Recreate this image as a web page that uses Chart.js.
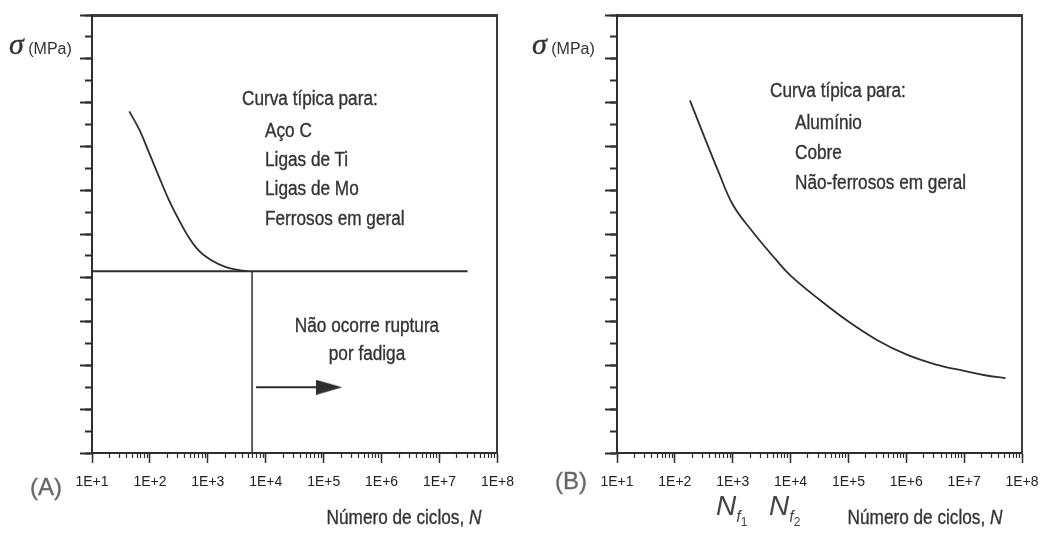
<!DOCTYPE html>
<html>
<head>
<meta charset="utf-8">
<script src="https://cdn.jsdelivr.net/npm/chart.js@4"></script>
<style>
  html, body { margin: 0; padding: 0; background: #fff; }
  #wrap { position: relative; width: 1050px; height: 533px; overflow: hidden; }
  .pane { position: absolute; top: 0; width: 525px; height: 533px; }
  .lbl { position: absolute; white-space: nowrap; color: #333; line-height: 1;
         -webkit-text-stroke: 0.35px #333;
         font-family: "Liberation Sans Narrow", "Arial Narrow", "Liberation Sans", sans-serif; }
  .mid { transform: translate(-50%, -50%) scaleX(0.86); }
  .lft { transform: translateY(-50%) scaleX(0.86); transform-origin: left center; }
  .plain { transform: translateY(-50%); }
  .sig { font-family: "Liberation Serif", serif; font-style: italic; font-size: 30px; }
  .mpa { font-size: 16px; -webkit-text-stroke: 0; }
  .note { font-size: 20px; }
  .panel { font-size: 24px; color: #666; -webkit-text-stroke: 0.3px #666;
           font-family: "Liberation Sans", sans-serif; transform: translate(-50%, -50%); }
  .nf { font-family: "Liberation Sans", sans-serif; font-style: italic; font-size: 28px; color: #444; -webkit-text-stroke: 0; }
  .nf sub { font-size: 16px; vertical-align: -7px; }
  .nf sub sub { font-size: 12px; font-style: normal; vertical-align: -4px; }
</style>
</head>
<body>
<div id="wrap">
  <div class="pane" style="left:0"><canvas id="chartA"></canvas></div>
  <div class="pane" style="left:525px"><canvas id="chartB"></canvas></div>

  <div class="lbl plain" style="left:9px;top:44px"><span class="sig">σ</span> <span class="mpa">(MPa)</span></div>
  <div class="lbl lft note" style="left:242px;top:98px">Curva típica para:</div>
  <div class="lbl lft note" style="left:265px;top:130px">Aço C</div>
  <div class="lbl lft note" style="left:265px;top:159px">Ligas de Ti</div>
  <div class="lbl lft note" style="left:265px;top:188px">Ligas de Mo</div>
  <div class="lbl lft note" style="left:265px;top:218px">Ferrosos em geral</div>
  <div class="lbl mid note" style="left:367px;top:325px">Não ocorre ruptura</div>
  <div class="lbl mid note" style="left:367px;top:353px">por fadiga</div>
  <div class="lbl panel" style="left:46px;top:487px">(A)</div>
  <div class="lbl mid note" style="left:404px;top:517px">Número de ciclos, <i>N</i></div>

  <div class="lbl plain" style="left:532px;top:44px"><span class="sig">σ</span> <span class="mpa">(MPa)</span></div>
  <div class="lbl lft note" style="left:770px;top:90px">Curva típica para:</div>
  <div class="lbl lft note" style="left:795px;top:122px">Alumínio</div>
  <div class="lbl lft note" style="left:795px;top:152px">Cobre</div>
  <div class="lbl lft note" style="left:795px;top:182px">Não-ferrosos em geral</div>
  <div class="lbl panel" style="left:571px;top:481px">(B)</div>
  <div class="lbl plain nf" style="left:716px;top:510px">N<sub>f<sub>1</sub></sub></div>
  <div class="lbl plain nf" style="left:769px;top:510px">N<sub>f<sub>2</sub></sub></div>
  <div class="lbl mid note" style="left:925px;top:517px">Número de ciclos, <i>N</i></div>
</div>

<script>
    "use strict";

    // -----------------------------------------------------------
    //  Data
    // -----------------------------------------------------------
    var tickLabels = ["1E+1", "1E+2", "1E+3", "1E+4", "1E+5", "1E+6", "1E+7", "1E+8"];
    var nMin = 10, nMax = 1e8;
    var sMin = 0, sMax = 20;

    // (A) ferrous curve
    var curveA_N = [44, 66, 97, 144, 213, 316, 468, 692, 1150, 2000, 3320, 4920];
    var curveA_S = [15.6, 14.75, 13.7, 12.6, 11.55, 10.65, 9.85, 9.25, 8.8, 8.5, 8.36, 8.3];
    var limitLine_N = [10, 30500000];
    var limitLine_S = [8.3, 8.3];
    var vertLine_N = [5800, 5800];
    var vertLine_S = [8.3, 0];
    var arrow_N = [6800, 125000];
    var arrow_S = [3, 3];

    // (B) non-ferrous curve
    var curveB_N = [182, 339, 575, 1000, 2140, 5500, 10000, 31600, 100000, 316000, 1000000, 3160000, 10000000, 23000000, 52000000];
    var curveB_S = [16.1, 14.3, 12.8, 11.35, 10.15, 8.85, 8.1, 7.0, 6.0, 5.15, 4.5, 4.05, 3.75, 3.55, 3.42];

    var ink = "#2e2e2e";
    var tickFont = { family: "'Liberation Sans Narrow', 'Liberation Sans', sans-serif", size: 14 };

    function pts(xs, ys) {
        return xs.map(function (x, i) { return { x: x, y: ys[i] }; });
    }

    function isDecade(v) {
        var e = Math.log10(v);
        return Math.abs(e - Math.round(e)) < 1e-9;
    }

    // arrow head drawn once, used as point style
    var head = document.createElement("canvas");
    head.width = 26; head.height = 15;
    (function () {
        var c = head.getContext("2d");
        c.fillStyle = ink;
        c.beginPath();
        c.moveTo(0, 0); c.lineTo(26, 7.5); c.lineTo(0, 15); c.closePath();
        c.fill();
    })();

    function makeScales(rightGap) {
        return {
            x: {
                type: "logarithmic", position: "bottom", min: nMin, max: nMax, weight: 1,
                afterBuildTicks: function (s) { s.ticks = s.ticks.filter(function (t) { return isDecade(t.value); }); },
                afterFit: function (s) { s.height = 80; },
                ticks: {
                    autoSkip: false, maxRotation: 0, padding: 11, color: "#222", font: tickFont,
                    callback: function (v) { return tickLabels[Math.round(Math.log10(v)) - 1]; }
                },
                grid: { drawOnChartArea: false, tickLength: 10, tickColor: ink, tickWidth: 1.5 },
                border: { color: ink, width: 2 }
            },
            xMinor: {
                type: "logarithmic", position: "bottom", min: nMin, max: nMax, weight: 0,
                afterBuildTicks: function (s) {
                    s.ticks = s.ticks.filter(function (t) {
                        var m = t.value / Math.pow(10, Math.floor(Math.log10(t.value) + 1e-9));
                        return Math.abs(m - Math.round(m)) < 1e-6;
                    });
                },
                afterFit: function (s) { s.height = 0; },
                ticks: { display: false },
                grid: { drawOnChartArea: false, tickLength: 5, tickColor: ink, tickWidth: 1.2 },
                border: { display: false }
            },
            xTop: {
                type: "linear", position: "top", min: 0, max: 1,
                afterFit: function (s) { s.height = 15; },
                ticks: { display: false },
                grid: { display: false },
                border: { color: "#3a3a3a", width: 3 }
            },
            y: {
                type: "linear", position: "left", min: sMin, max: sMax, weight: 1,
                afterFit: function (s) { s.width = 92; },
                ticks: { display: false, stepSize: 2 },
                grid: { drawOnChartArea: false, tickLength: 12, tickColor: ink, tickWidth: 2 },
                border: { color: ink, width: 2 }
            },
            yMinor: {
                type: "linear", position: "left", min: sMin, max: sMax, weight: 0,
                afterFit: function (s) { s.width = 0; },
                ticks: { display: false, stepSize: 1 },
                grid: { drawOnChartArea: false, tickLength: 7, tickColor: ink, tickWidth: 2 },
                border: { display: false }
            },
            yRight: {
                type: "linear", position: "right", min: 0, max: 1,
                afterFit: function (s) { s.width = rightGap; },
                ticks: { display: false },
                grid: { display: false },
                border: { color: "#3a3a3a", width: 2 }
            }
        };
    }

    function lineSet(data, width, extra) {
        var d = {
            data: data, borderColor: ink, borderWidth: width, pointRadius: 0,
            fill: false, xAxisID: "x", yAxisID: "y"
        };
        if (extra) Object.keys(extra).forEach(function (k) { d[k] = extra[k]; });
        return d;
    }

    function baseOptions(rightGap) {
        return {
            responsive: true,
            maintainAspectRatio: false,
            animation: false,
            layout: { padding: 0 },
            plugins: { legend: { display: false }, tooltip: { enabled: false } },
            scales: makeScales(rightGap)
        };
    }

    new Chart(document.getElementById("chartA"), {
        type: "line",
        data: {
            datasets: [
                lineSet(pts(curveA_N, curveA_S), 1.8, { cubicInterpolationMode: "monotone" }),
                lineSet(pts(limitLine_N, limitLine_S), 2.2),
                lineSet(pts(vertLine_N, vertLine_S), 1.5),
                lineSet(pts(arrow_N, arrow_S), 2, {
                    pointRadius: [0, 1],
                    pointStyle: head,
                    clip: false
                })
            ]
        },
        options: baseOptions(23)
    });

    new Chart(document.getElementById("chartB"), {
        type: "line",
        data: {
            datasets: [
                lineSet(pts(curveB_N, curveB_S), 1.8, { tension: 0.4 })
            ]
        },
        options: baseOptions(28)
    });
</script>
</body>
</html>
